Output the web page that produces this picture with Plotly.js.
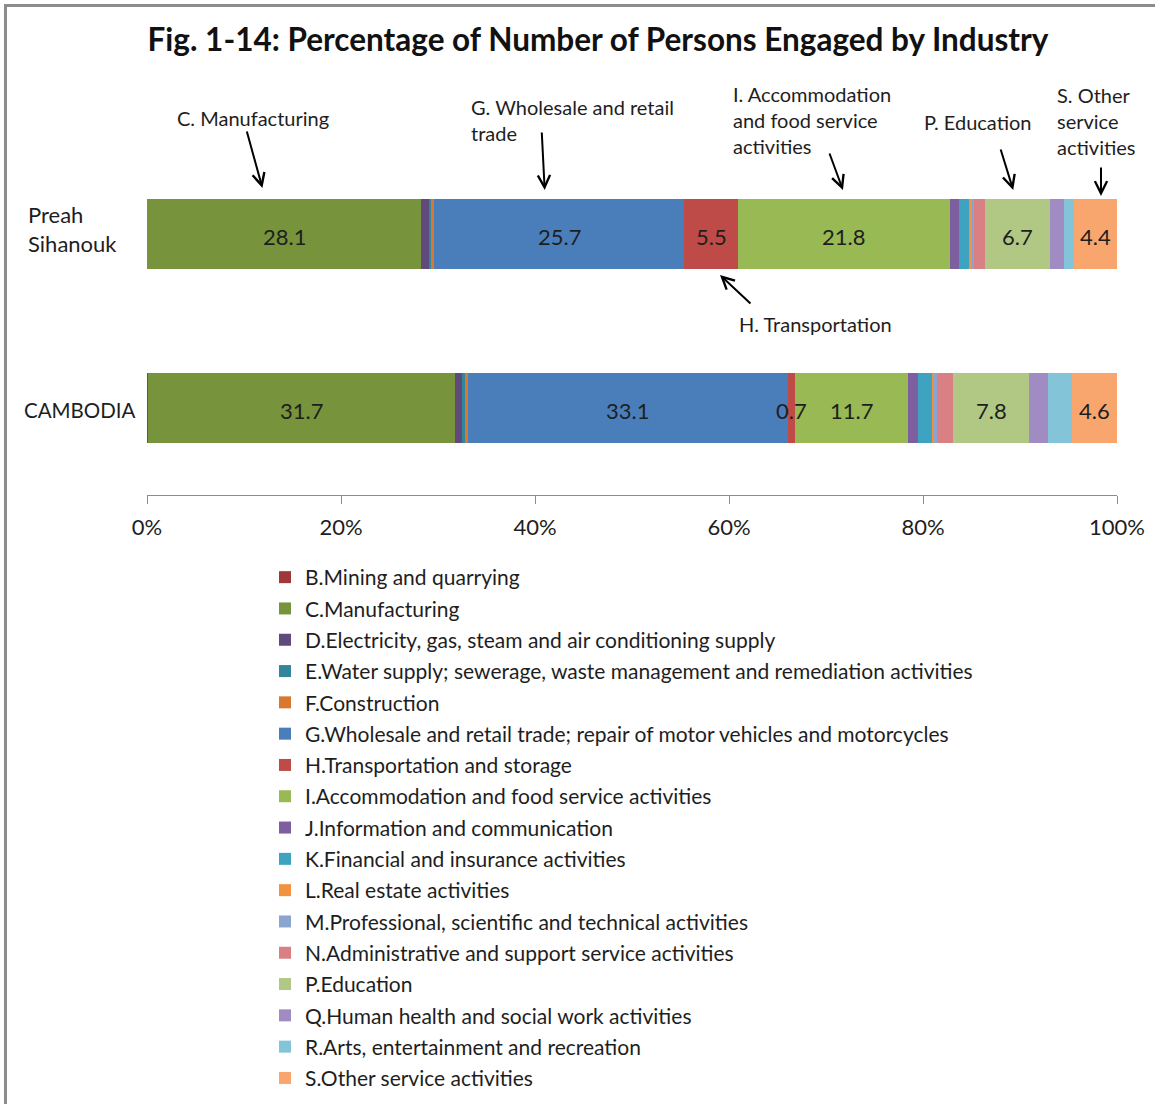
<!DOCTYPE html>
<html>
<head>
<meta charset="utf-8">
<script src="https://cdn.plot.ly/plotly-3.0.1.min.js"></script>
<style>
  html, body { margin: 0; padding: 0; background: #fff; }
  #wrap { position: relative; width: 1155px; height: 1104px; overflow: hidden; }
  #chart { width: 1155px; height: 1104px; }
  #frame { position: absolute; left: 4px; top: 4px; width: 1200px; height: 1200px;
           border-left: 3px solid #8c8c8c; border-top: 3px solid #8c8c8c; pointer-events: none; }
</style>
</head>
<body>
<div id="wrap"><div id="chart"></div><div id="frame"></div></div>
<script>
// ---- data ----
const regions = ['Preah Sihanouk', 'CAMBODIA'];
const regionLabels = ['Preah<br>Sihanouk', 'CAMBODIA'];

const industries = [
  'B.Mining and quarrying',
  'C.Manufacturing',
  'D.Electricity, gas, steam and air conditioning supply',
  'E.Water supply; sewerage, waste management and remediation activities',
  'F.Construction',
  'G.Wholesale and retail trade; repair of motor vehicles and motorcycles',
  'H.Transportation and storage',
  'I.Accommodation and food service activities',
  'J.Information and communication',
  'K.Financial and insurance activities',
  'L.Real estate activities',
  'M.Professional, scientific and technical activities',
  'N.Administrative and support service activities',
  'P.Education',
  'Q.Human health and social work activities',
  'R.Arts, entertainment and recreation',
  'S.Other service activities'
];

// values per industry: [Preah Sihanouk, CAMBODIA] (%)
const valB = [0.05, 0.1];
const valC = [28.1, 31.7];
const valD = [0.85, 0.75];
const valE = [0.25, 0.3];
const valF = [0.3, 0.25];
const valG = [25.7, 33.1];
const valH = [5.5, 0.7];
const valI = [21.8, 11.7];
const valJ = [1.0, 1.0];
const valK = [1.0, 1.5];
const valL = [0.3, 0.1];
const valM = [0.2, 0.35];
const valN = [1.1, 1.7];
const valP = [6.7, 7.8];
const valQ = [1.4, 2.0];
const valR = [1.1, 2.5];
const valS = [4.4, 4.6];
const values = [valB, valC, valD, valE, valF, valG, valH, valI, valJ, valK, valL, valM, valN, valP, valQ, valR, valS];

// which industries carry a value label
const labelled = [false, true, false, false, false, true, true, true, false, false, false, false, false, true, false, false, true];

const colors = ['#A0383A', '#77933C', '#604A7B', '#31859C', '#D9782F', '#4A7EBB', '#BE4B48',
                '#98B954', '#7D5FA0', '#3DA3C0', '#F29240', '#8AA6D0', '#D88083', '#B0C883',
                '#A08CC2', '#84C4D8', '#F8A66E'];

const tickVals = [0, 20, 40, 60, 80, 100];
const tickText = ['0%', '20%', '40%', '60%', '80%', '100%'];

// ---- geometry helpers (layout only) ----
const W = 1155, H = 1104;
const M = { l: 147, r: 38, t: 147, b: 609 };
const plotW = W - M.l - M.r, plotH = H - M.t - M.b;
const px = x => (x - M.l) / plotW;          // page pixel -> paper x
const py = y => (H - M.b - y) / plotH;      // page pixel -> paper y

const FONT = 'Lato, "Open Sans", sans-serif';
const TXT = '#1e1e1e';

const traces = industries.map((name, i) => ({
  type: 'bar',
  orientation: 'h',
  name: name,
  legendgroup: 'g' + i,
  y: regions,
  x: values[i],
  marker: { color: colors[i], line: { width: 0 } },
  hoverinfo: 'name+x'
}));

const annotations = [];

// value labels, placed at segment centres (drawn above all bars)
regions.forEach((r, ri) => {
  const total = values.reduce((s, v) => s + v[ri], 0);
  let cum = 0;
  values.forEach((v, i) => {
    if (labelled[i]) {
      annotations.push({
        xref: 'x', yref: 'y', x: (cum + v[ri] / 2) / total * 100, y: r, yshift: -2,
        xanchor: 'center', yanchor: 'middle', text: v[ri].toFixed(1), showarrow: false,
        font: { family: FONT, size: 22, color: TXT }
      });
    }
    cum += v[ri];
  });
});

// callout texts and arrows
const callouts = [
  { text: 'C. Manufacturing', x: 253, y: 118, anchor: 'center' },
  { text: 'G. Wholesale and retail<br>trade', x: 469, y: 120, anchor: 'left' },
  { text: 'I. Accommodation<br>and food service<br>activities', x: 731, y: 120, anchor: 'left' },
  { text: 'P. Education', x: 978, y: 122, anchor: 'center' },
  { text: 'S. Other<br>service<br>activities', x: 1055, y: 121, anchor: 'left' },
  { text: 'H. Transportation', x: 815, y: 324, anchor: 'center' }
];
const arrows = [
  { x: 11.9, y: 188, ax: -16, ay: -58 },
  { x: 41.0, y: 190, ax: -3, ay: -59 },
  { x: 71.75, y: 190, ax: -14, ay: -38 },
  { x: 89.3, y: 190, ax: -13, ay: -42 },
  { x: 98.35, y: 196, ax: 0, ay: -30 },
  { x: 59.07, y: 275, ax: 32, ay: 30 }
];
const regionLabelX = [26, 22];
const regionLabelSize = [22, 20.5];
const regionLabelShift = [5, -2];

callouts.forEach(c => annotations.push({
  xref: 'paper', yref: 'paper', x: px(c.x), y: py(c.y),
  xanchor: c.anchor, yanchor: 'middle', align: 'left',
  text: c.text, showarrow: false,
  font: { family: FONT, size: 20, color: TXT }
}));
arrows.forEach(a => annotations.push({
  xref: 'x', yref: 'paper', x: a.x, y: py(a.y),
  ax: a.ax, ay: a.ay, axref: 'pixel', ayref: 'pixel',
  text: '', showarrow: true, arrowhead: 5, arrowsize: 1.2, arrowwidth: 2,
  arrowcolor: '#000', standoff: 0, startstandoff: 0
}));
regions.forEach((r, i) => annotations.push({
  xref: 'paper', yref: 'y', x: px(regionLabelX[i]), y: r, yshift: regionLabelShift[i],
  xanchor: 'left', yanchor: 'middle', align: 'left',
  text: regionLabels[i], showarrow: false,
  font: { family: FONT, size: regionLabelSize[i], color: TXT }
}));

const layout = {
  width: W, height: H,
  margin: { l: M.l, r: M.r, t: M.t, b: M.b, pad: 0, autoexpand: false },
  paper_bgcolor: '#fff', plot_bgcolor: '#fff',
  font: { family: FONT, color: TXT },
  title: {
    text: '<b>Fig. 1-14: Percentage of Number of Persons Engaged by Industry</b>',
    font: { family: FONT, size: 31.5, color: '#111' },
    xref: 'container', yref: 'container', x: 598 / W, y: 1 - 40 / H,
    xanchor: 'center', yanchor: 'middle'
  },
  barmode: 'stack',
  barnorm: 'percent',
  bargap: 0.6,
  xaxis: {
    range: [0, 100], tickvals: tickVals, ticktext: tickText, tickangle: 0,
    showgrid: false, zeroline: false, showline: true, linecolor: '#8c8c8c', linewidth: 1,
    ticks: 'outside', ticklen: 8, tickcolor: '#8c8c8c', tickwidth: 1,
    tickfont: { family: FONT, size: 22, color: TXT }, ticklabelstandoff: 5,
    automargin: false, fixedrange: true
  },
  yaxis: {
    type: 'category', categoryorder: 'array', categoryarray: regions,
    autorange: 'reversed', showticklabels: false, showgrid: false, zeroline: false,
    showline: false, ticks: '', automargin: false, fixedrange: true
  },
  showlegend: true,
  legend: {
    xref: 'container', yref: 'container',
    x: 265 / W, y: 1 - 557 / H, xanchor: 'left', yanchor: 'top',
    orientation: 'v', traceorder: 'grouped', tracegroupgap: 1,
    font: { family: FONT, size: 21, color: TXT },
    itemwidth: 30, bgcolor: 'rgba(0,0,0,0)'
  },
  annotations: annotations
};

Plotly.newPlot('chart', traces, layout, { displayModeBar: false, staticPlot: true });
</script>
</body>
</html>
